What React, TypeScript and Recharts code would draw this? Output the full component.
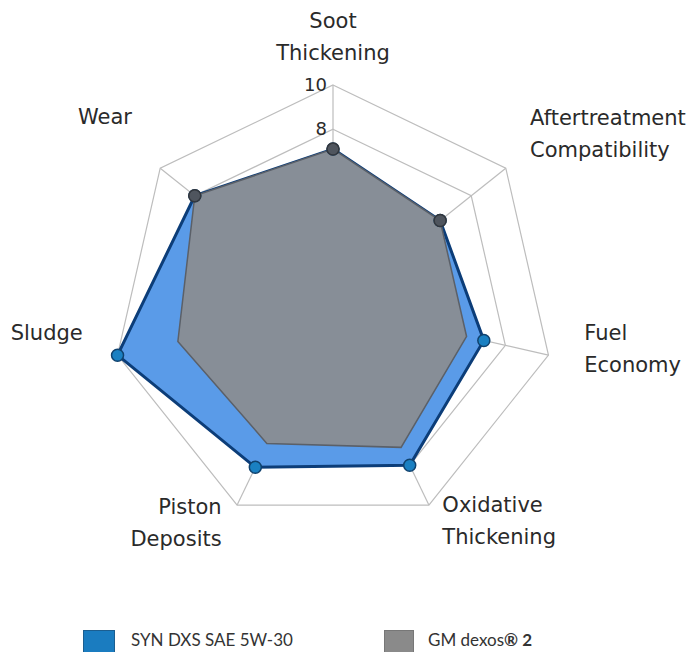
import React from 'react';
import { RadarChart, Radar, PolarGrid, PolarAngleAxis, PolarRadiusAxis, Legend } from 'recharts';

const categories = [
  'Soot Thickening',
  'Aftertreatment Compatibility',
  'Fuel Economy',
  'Oxidative Thickening',
  'Piston Deposits',
  'Sludge',
  'Wear',
];
const synValues = [7.1, 6.2, 7.0, 8.0, 8.1, 10, 8.0];
const dexosValues = [7.1, 6.2, 6.2, 7.1, 6.9, 7.2, 8.0];
const radiusTicks = [0, 2, 4, 6, 8, 10];
const seriesNames = ['SYN DXS SAE 5W-30', 'GM dexos® 2'];

const data = categories.map((c, i) => ({ name: c, syn: synValues[i], dexos: dexosValues[i] }));

// label placement relative to the tick point
const labelPos: Record<string, { dx: number; dy: number; anchor: string }> = {
  'Soot Thickening': { dx: 0, dy: -49, anchor: 'middle' },
  'Aftertreatment Compatibility': { dx: 18, dy: -38, anchor: 'start' },
  'Fuel Economy': { dx: 28, dy: -17, anchor: 'start' },
  'Oxidative Thickening': { dx: 10, dy: 0, anchor: 'start' },
  'Piston Deposits': { dx: -12, dy: 2, anchor: 'end' },
  'Sludge': { dx: -27, dy: -17, anchor: 'end' },
  'Wear': { dx: -22, dy: -39, anchor: 'end' },
};

const AngleTick = ({ x, y, payload }: any) => {
  const p = labelPos[payload.value] || { dx: 0, dy: 0, anchor: 'middle' };
  const words = payload.value.split(' ');
  return (
    <text x={x + p.dx} y={y + p.dy} textAnchor={p.anchor} fill="#2a2a2a"
      fontFamily="DejaVu Sans" fontSize={21}>
      {words.map((w: string, i: number) => (
        <tspan key={i} x={x + p.dx} dy={i === 0 ? 0 : 32}>{w}</tspan>
      ))}
    </text>
  );
};

const RadiusTick = ({ x, y, payload }: any) => {
  if (payload.value < 8) return null;
  return (
    <text x={x - 6} y={y + 6} textAnchor="end" fill="#2a2a2a" fontFamily="DejaVu Sans" fontSize={18}>
      {payload.value}
    </text>
  );
};

// gray markers only where both oils score the same (blue marker hidden beneath)
const GrayDot = (props: any) => {
  const { cx, cy, payload, index } = props;
  if (payload.syn !== payload.dexos) return <g key={index} />;
  return <circle key={index} cx={cx} cy={cy} r={6} fill="#4f555e" stroke="#33373d" strokeWidth={1.5} />;
};

const LegendBox = () => (
  <div style={{ position: 'relative', height: 52, fontFamily: 'Lato', fontSize: 17, color: '#333' }}>
    <div style={{ position: 'absolute', left: 83, top: 30, width: 30, height: 24, background: '#1a7cc0', border: '1px solid #1b5e90' }} />
    <div style={{ position: 'absolute', left: 131, top: 29 }}>{seriesNames[0]}</div>
    <div style={{ position: 'absolute', left: 384, top: 30, width: 28, height: 24, background: '#8a8a8a', border: '1px solid #777' }} />
    <div style={{ position: 'absolute', left: 428, top: 29 }}>
      GM dexos<b>® 2</b>
    </div>
  </div>
);

export default function App() {
  return (
    <div style={{ position: 'absolute', left: 0, top: 0, width: 696, height: 652, background: '#fff' }}>
      <RadarChart width={696} height={652} data={data} cx={333} cy={306} outerRadius={221}
        margin={{ top: 0, right: 0, bottom: 0, left: 0 }}>
        <PolarGrid gridType="polygon" stroke="#bdbdbd" strokeWidth={1.2} />
        <PolarAngleAxis dataKey="name" tick={<AngleTick />} tickLine={false} axisLine={false} />
        <PolarRadiusAxis angle={90} domain={[0, 10]} ticks={radiusTicks} tick={<RadiusTick />}
          axisLine={false} tickLine={false} />
        <Radar name={seriesNames[0]} dataKey="syn" stroke="#0c3d78" strokeWidth={3} fill="#5a9be8" fillOpacity={1}
          dot={{ r: 6, fill: '#1a80c2', stroke: '#10426e', strokeWidth: 1.5, fillOpacity: 1 }} isAnimationActive={false} />
        <Radar name={seriesNames[1]} dataKey="dexos" stroke="#5b6068" strokeWidth={1.5} fill="#878e97" fillOpacity={1}
          dot={<GrayDot />} isAnimationActive={false} />
        <Legend content={<LegendBox />} wrapperStyle={{ position: 'absolute', left: 0, top: 600, width: 696 }} />
      </RadarChart>
    </div>
  );
}
